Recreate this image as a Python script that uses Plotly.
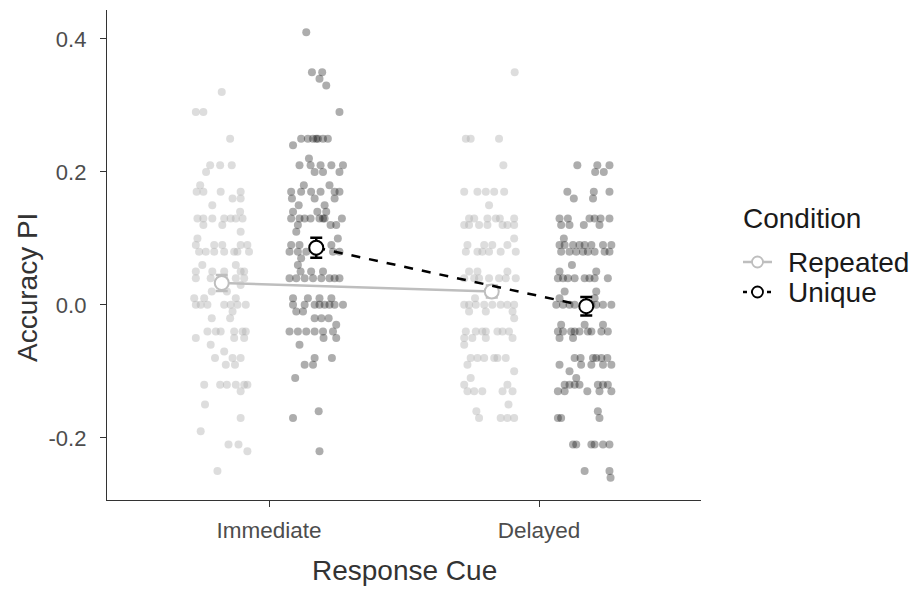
import plotly.graph_objects as go

# ---------------- data ----------------
categories = ["Immediate", "Delayed"]
conditions = ["Repeated", "Unique"]

# condition means and standard errors per response cue
means_repeated = [0.033, 0.020]
se_repeated = [0.012, 0.009]
means_unique = [0.086, -0.002]
se_unique = [0.015, 0.014]

# individual participant values (grouped by value level) and their horizontal jitter
rep_imm_levels = [0.32, 0.29, 0.25, 0.21, 0.20, 0.18, 0.17, 0.16, 0.15, 0.14, 0.13, 0.12, 0.11, 0.10,
                  0.09, 0.08, 0.06, 0.05, 0.04, 0.03, 0.02, 0.01, 0.00, -0.01, -0.02, -0.04, -0.05,
                  -0.06, -0.07, -0.08, -0.09, -0.12, -0.13, -0.15, -0.17, -0.19, -0.21, -0.22, -0.25]
rep_imm_jitter = [[0.0], [-0.096, -0.068], [0.031], [-0.043, -0.006, 0.037], [-0.058], [-0.080],
                  [-0.093, -0.068, -0.004, 0.070], [0.040, 0.070], [-0.035], [0.068],
                  [-0.090, -0.068, -0.035, 0.009, 0.033, 0.052, 0.077], [-0.068, 0.002], [0.070], [-0.090],
                  [-0.096, -0.028, 0.002, 0.070, 0.095], [-0.084, -0.059, -0.028, 0.009, 0.046, 0.058, 0.101],
                  [-0.072, 0.052], [-0.096, -0.035, 0.009, 0.070, 0.083], [-0.096, -0.041, 0.009, 0.052, 0.083],
                  [0.070], [-0.037, 0.019], [-0.102, -0.065, 0.052],
                  [-0.096, -0.078, -0.053, 0.009, 0.033, 0.058, 0.089], [0.040], [-0.037, 0.031],
                  [-0.053, -0.022, -0.004, 0.046, 0.077, 0.089], [-0.096, 0.046, 0.083], [-0.041], [0.009],
                  [-0.025, 0.040, 0.070], [0.015, 0.049], [-0.065, -0.006, 0.019, 0.052, 0.083, 0.095],
                  [0.070], [-0.062], [0.070], [-0.078], [0.025, 0.062], [0.095], [-0.016]]

uni_imm_levels = [0.41, 0.35, 0.34, 0.33, 0.29, 0.25, 0.24, 0.22, 0.21, 0.20, 0.18, 0.17, 0.16, 0.15,
                  0.14, 0.13, 0.12, 0.11, 0.10, 0.09, 0.08, 0.07, 0.06, 0.05, 0.04, 0.01, 0.00, -0.01,
                  -0.02, -0.03, -0.04, -0.05, -0.06, -0.08, -0.09, -0.11, -0.16, -0.17, -0.22]
uni_imm_jitter = [[-0.037], [-0.016, 0.022], [0.012], [0.037], [0.086],
                  [-0.056, -0.031, -0.012, 0.0, 0.006, 0.025, 0.043], [-0.086], [-0.027],
                  [-0.062, -0.021, 0.016, 0.056, 0.099], [-0.006, 0.025, 0.086], [-0.046, 0.049],
                  [-0.093, -0.056, -0.019, 0.016, 0.068, 0.086], [-0.090, -0.006, 0.068], [-0.065, 0.031],
                  [-0.086, 0.004, 0.037], [-0.093, -0.062, -0.043, -0.021, 0.012, 0.025, 0.031, 0.095],
                  [-0.068, 0.053, 0.074], [-0.074], [0.080], [-0.093, -0.062, 0.056],
                  [-0.099, -0.068, -0.037, -0.006, 0.062, 0.086], [-0.056], [-0.068], [-0.058, -0.019, 0.025],
                  [-0.099, -0.074, -0.043, -0.012, 0.019, 0.049, 0.068, 0.086], [-0.086, -0.031, 0.012, 0.056],
                  [-0.086, -0.043, -0.006, 0.012, 0.031, 0.049, 0.068, 0.099], [-0.074, -0.049],
                  [-0.006, 0.019, 0.046], [0.074], [-0.099, -0.068, -0.037, -0.006, 0.025, 0.062],
                  [0.027, 0.074], [-0.062], [-0.006, 0.058], [-0.043, -0.012], [-0.078], [0.009], [-0.086],
                  [0.012]]

rep_del_levels = [0.35, 0.25, 0.21, 0.17, 0.15, 0.13, 0.12, 0.10, 0.09, 0.08, 0.05, 0.04, 0.01, 0.00,
                  -0.01, -0.02, -0.04, -0.05, -0.06, -0.08, -0.09, -0.10, -0.11, -0.12, -0.13, -0.15,
                  -0.16, -0.17]
rep_del_jitter = [[0.085], [-0.096, -0.078, 0.027], [0.043], [-0.102, -0.053, -0.022, 0.009, 0.046], [-0.010],
                  [-0.084, -0.065, -0.016, 0.015, 0.030, 0.083],
                  [-0.102, -0.084, -0.047, -0.016, 0.040, 0.058, 0.083], [0.083], [-0.090, -0.028, 0.002, 0.058],
                  [-0.096, -0.053, -0.035, -0.010, 0.033, 0.089], [-0.084, -0.053, 0.058],
                  [-0.102, -0.065, -0.047, -0.010, 0.027, 0.052, 0.089], [-0.062],
                  [-0.102, -0.084, -0.059, -0.028, 0.002, 0.033, 0.058, 0.083], [-0.084, -0.022, 0.077], [0.083],
                  [-0.096, -0.059, -0.035, -0.022, 0.021, 0.040, 0.064], [-0.102, -0.072, -0.022, 0.077],
                  [-0.102], [-0.078, -0.053, -0.028, 0.009, 0.021, 0.052], [-0.090], [0.083], [-0.078],
                  [-0.102, 0.058], [-0.090, -0.065, -0.035, 0.040, 0.077], [0.062], [-0.057],
                  [-0.047, 0.033, 0.058, 0.083]]

uni_del_levels = [0.21, 0.20, 0.17, 0.16, 0.13, 0.12, 0.10, 0.09, 0.08, 0.06, 0.05, 0.04, 0.02, 0.01, 0.00,
                  -0.03, -0.04, -0.05, -0.08, -0.09, -0.10, -0.11, -0.12, -0.13, -0.16, -0.17, -0.21,
                  -0.25, -0.26]
uni_del_jitter = [[-0.033, 0.041, 0.086], [0.033, 0.065], [-0.070, 0.028, 0.086], [-0.046, 0.025],
                  [-0.099, -0.068, 0.012, 0.031, 0.053, 0.086], [-0.093, -0.062, -0.009, 0.049], [-0.083],
                  [-0.099, -0.080, -0.049, -0.025, -0.006, 0.019, 0.062, 0.093],
                  [-0.093, -0.062, -0.037, -0.012, 0.006, 0.031, 0.068, 0.086], [-0.053], [-0.099, 0.037],
                  [-0.105, -0.086, -0.068, -0.043, -0.006, 0.012, 0.031, 0.080], [-0.080, 0.037], [-0.099, 0.031],
                  [-0.111, -0.086, -0.062, -0.043, 0.019, 0.037, 0.062, 0.093], [-0.093, -0.006, 0.062],
                  [-0.105, -0.086, -0.056, -0.043, -0.025, 0.006, 0.019, 0.056, 0.080], [-0.099, -0.049],
                  [-0.043, -0.021, 0.025, 0.037, 0.056, 0.078], [-0.099, -0.019, 0.019, 0.062, 0.093], [-0.062],
                  [-0.037], [-0.080, -0.062, -0.043, -0.025, 0.043, 0.062, 0.080],
                  [-0.105, -0.080, 0.004, 0.049, 0.093], [0.043], [-0.105, -0.093, 0.049],
                  [-0.049, -0.037, 0.019, 0.031, 0.062, 0.086], [-0.006, 0.086], [0.090]]

# ---------------- styling ----------------
FONT = "Liberation Sans, Arial, sans-serif"
REP_PT = "rgba(175,175,175,0.42)"
UNI_PT = "rgba(0,0,0,0.32)"
REP_LINE = "#bebebe"
UNI_LINE = "#000000"
DODGE = 0.175
cat_pos = {c: i + 1 for i, c in enumerate(categories)}

W, H = 917, 595
ML, MR, MT, MB = 107, 216, 10, 95


def flatten(levels, jitter, center):
    xs, ys = [], []
    for lv, js in zip(levels, jitter):
        for j in js:
            xs.append(center + j)
            ys.append(lv)
    return xs, ys


groups = [
    (rep_imm_levels, rep_imm_jitter, cat_pos["Immediate"] - DODGE, REP_PT),
    (uni_imm_levels, uni_imm_jitter, cat_pos["Immediate"] + DODGE, UNI_PT),
    (rep_del_levels, rep_del_jitter, cat_pos["Delayed"] - DODGE, REP_PT),
    (uni_del_levels, uni_del_jitter, cat_pos["Delayed"] + DODGE, UNI_PT),
]

fig = go.Figure()
for lv, jt, center, col in groups:
    xs, ys = flatten(lv, jt, center)
    fig.add_trace(go.Scatter(x=xs, y=ys, mode="markers", showlegend=False, hoverinfo="skip",
                             marker=dict(size=8, color=col, line=dict(width=0))))

xr = [cat_pos[c] - DODGE for c in categories]
xu = [cat_pos[c] + DODGE for c in categories]

fig.add_trace(go.Scatter(
    x=xr, y=means_repeated, name=conditions[0], mode="lines+markers", showlegend=False,
    line=dict(color=REP_LINE, width=2.5),
    marker=dict(size=14, color="white", line=dict(color=REP_LINE, width=2)),
    error_y=dict(type="data", array=se_repeated, color=REP_LINE, thickness=2.5, width=6),
))
fig.add_trace(go.Scatter(
    x=xu, y=means_unique, name=conditions[1], mode="lines+markers", showlegend=False,
    line=dict(color=UNI_LINE, width=2.5, dash="dash"),
    marker=dict(size=14, color="white", line=dict(color=UNI_LINE, width=2)),
    error_y=dict(type="data", array=se_unique, color=UNI_LINE, thickness=2.5, width=6),
))

# ---- hand-placed legend (paper coordinates from pixel positions) ----
def px(xp):
    return (xp - ML) / (W - ML - MR)


def py(yp):
    return (H - MB - yp) / (H - MT - MB)


shapes = []
annotations = [
    dict(text="Condition", x=px(741), y=py(218), xref="paper", yref="paper", showarrow=False,
         xanchor="left", yanchor="middle", font=dict(size=28, color="#1a1a1a")),
]
legend_rows = [(conditions[0], REP_LINE, "solid", 262), (conditions[1], UNI_LINE, "dash", 292)]
for name, col, dash, yy in legend_rows:
    shapes.append(dict(type="line", xref="paper", yref="paper", x0=px(743), x1=px(772),
                       y0=py(yy), y1=py(yy), line=dict(color=col, width=2.5,
                                                       dash="solid" if dash == "solid" else "4px,4px")))
    shapes.append(dict(type="circle", xref="paper", yref="paper", x0=px(752), x1=px(763),
                       y0=py(yy - 5.5), y1=py(yy + 5.5), fillcolor="white",
                       line=dict(color=col, width=1.8)))
    annotations.append(dict(text=name, x=px(786), y=py(yy), xref="paper", yref="paper",
                            showarrow=False, xanchor="left", yanchor="middle",
                            font=dict(size=28, color="#1a1a1a")))

annotations += [
    dict(text="Response Cue", x=0.5, y=py(570), xref="paper", yref="paper", showarrow=False,
         xanchor="center", yanchor="middle", font=dict(size=28, color="#333333")),
    dict(text="Accuracy PI", x=px(28), y=py(288), xref="paper", yref="paper", showarrow=False,
         textangle=-90, xanchor="center", yanchor="middle", font=dict(size=28, color="#333333")),
]

fig.update_layout(
    width=W, height=H,
    margin=dict(l=ML, r=MR, t=MT, b=MB),
    paper_bgcolor="white", plot_bgcolor="white",
    font=dict(family=FONT, color="#333333"),
    showlegend=False,
    xaxis=dict(range=[0.4, 2.6], tickvals=[cat_pos[c] for c in categories], ticktext=categories,
               showline=True, linecolor="#333333", linewidth=1.3, ticks="outside", ticklen=6,
               tickcolor="#333333", tickwidth=1.3, tickfont=dict(size=22.5, color="#4d4d4d"),
               ticklabelstandoff=4, showgrid=False, zeroline=False),
    yaxis=dict(range=[-0.2935, 0.4435], tickvals=[-0.2, 0.0, 0.2, 0.4],
               ticktext=["-0.2", "0.0", "0.2", "0.4"], ticklabelstandoff=9,
               showline=True, linecolor="#333333", linewidth=1.3, ticks="outside", ticklen=6,
               tickcolor="#333333", tickwidth=1.3, tickfont=dict(size=22, color="#4d4d4d"),
               showgrid=False, zeroline=False),
    shapes=shapes,
    annotations=annotations,
)

fig.write_html("out.html")
